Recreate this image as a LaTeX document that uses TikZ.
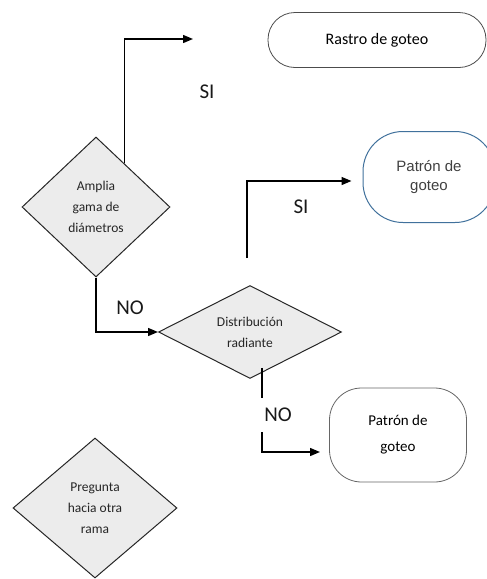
\documentclass[tikz,border=0pt]{standalone}
\usepackage{fontspec}
\setmainfont{Carlito}
\newfontfamily\arialf{Liberation Sans}
\usetikzlibrary{shapes.geometric,calc,arrows.meta}
\definecolor{grisrombo}{RGB}{236,236,236}
\definecolor{azulborde}{RGB}{65,113,156}
\definecolor{textogris}{RGB}{64,64,64}
\tikzset{
  rombo/.style={diamond, draw=black!85, fill=grisrombo, line width=1pt,
    inner sep=0pt, align=center, text=black!85,
    font=\fontsize{13.5}{21}\selectfont},
  flecha/.style={draw, line width=1.4pt, -{Triangle[length=10pt,width=8pt]}},
  rotulo/.style={font=\fontsize{21}{22}\selectfont, text=black!90},
}
\begin{document}
\begin{tikzpicture}[x=1pt,y=-1pt]
    \useasboundingbox (0,0) rectangle (487,579);

    % rombos
    \node[rombo, minimum width=148pt, minimum height=140pt] (amplia) at (96,207) {Amplia\\gama de\\diámetros};
    \node[rombo, aspect=1.6, minimum width=183pt, minimum height=93pt] (distrib) at (250,332) {Distribución\\radiante};
    \node[rombo, minimum width=164pt, minimum height=140pt] (pregunta) at (95,508) {Pregunta\\hacia otra\\rama};

    % terminales
    \node[draw=black!70, line width=0.8pt, rounded corners=27pt, minimum width=218pt, minimum height=55pt,
      font=\fontsize{16}{18}\selectfont] (rastro) at (377,40) {Rastro de goteo};
    \node[draw=azulborde, line width=1pt, rounded corners=40pt, minimum width=132pt, minimum height=91pt,
      align=center, text=textogris, font=\arialf\fontsize{15}{19}\selectfont] (patronA) at (429,177) {Patrón de\\goteo};
    \node[draw=black!60, line width=0.8pt, rounded corners=32pt, minimum width=137pt, minimum height=94pt,
      align=center, font=\fontsize{15}{26}\selectfont] (patronB) at (398,435) {Patrón de\\goteo};

    % puntos libres
    \coordinate (finSI) at (193,39);
    \coordinate (iniSI) at (247,258);
    \coordinate (finNO) at (320,452);

    % flechas
    \draw[flecha] ($(amplia.north)!0.38!(amplia.east)$) |- (finSI);
    \draw[flecha] (iniSI) |- ([xshift=-11pt,yshift=-4pt]patronA.west);
    \draw[flecha] (amplia.south) |- (distrib.west);
    \draw[flecha] ($(distrib.south)!0.13!(distrib.east)+(0,-5)$) |- (finNO);

    % rotulos
    \node[rotulo] (si1) at (207,92) {SI};
    \node[rotulo] (si2) at (301,207) {SI};
    \node[rotulo] (no1) at (130,308) {NO};
    \node[rotulo, fill=white, inner xsep=5pt, minimum height=34pt] (no2) at (278,415) {NO};
\end{tikzpicture}
\end{document}
